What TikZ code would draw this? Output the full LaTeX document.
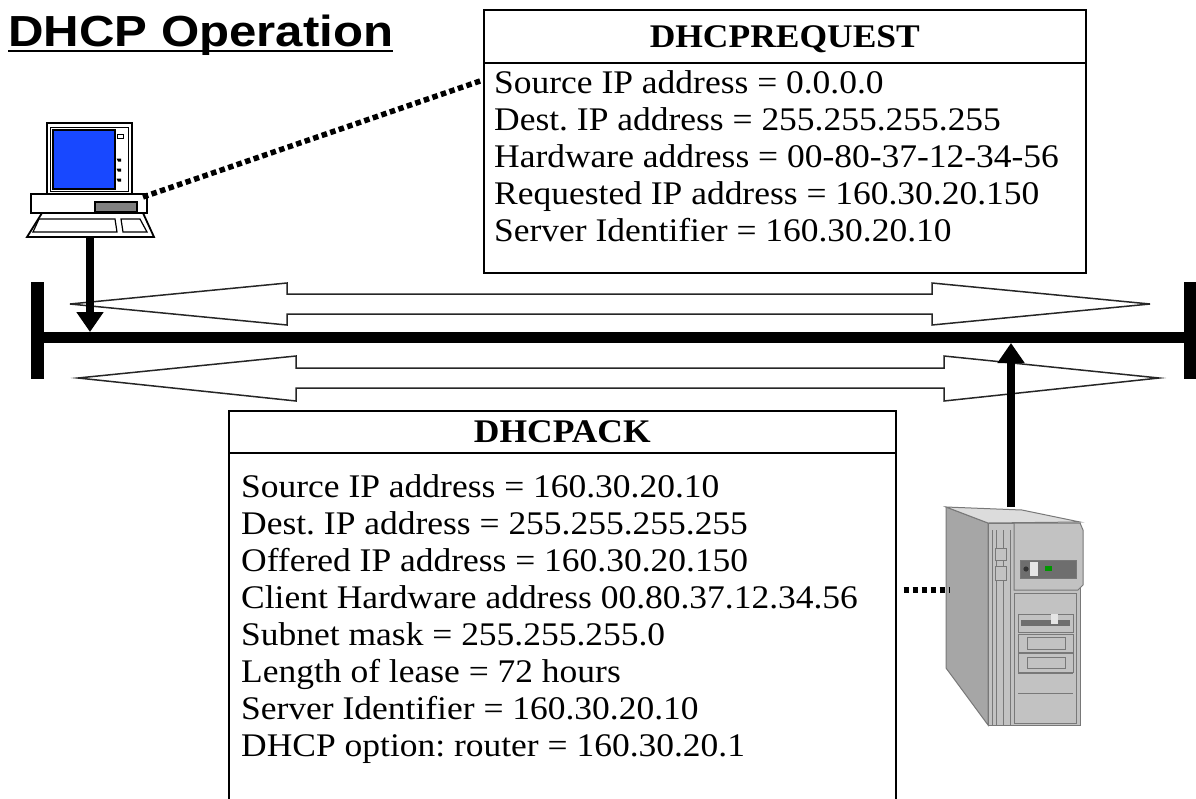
\documentclass[tikz,border=0pt]{standalone}
\usepackage{fontspec}
\setmainfont{Liberation Serif}[FakeStretch=1.075]
\newfontfamily\headfont{Liberation Sans}[FakeStretch=1.13]
\usetikzlibrary{arrows.meta}
\definecolor{screenblue}{RGB}{24,72,255}
\definecolor{slotgray}{RGB}{128,128,128}
\definecolor{caseside}{RGB}{166,166,166}
\definecolor{casefront}{RGB}{194,194,194}
\definecolor{casetop}{RGB}{220,220,220}
\definecolor{caseline}{RGB}{120,120,120}
\definecolor{bezeldark}{RGB}{110,110,110}
\definecolor{ledgreen}{RGB}{0,150,0}
\newcommand\bodysize{\fontsize{33}{37}\selectfont\frenchspacing}
\begin{document}
\begin{tikzpicture}[x=1pt,y=-1pt,
  msgbox/.style={draw=black, line width=1.6pt, fill=white, inner sep=0pt, anchor=north west},
  msghead/.style={msgbox, minimum height=53pt, font=\bodysize\bfseries, text height=22pt, text depth=0pt},
  msgline/.style={anchor=base west, inner sep=0pt, font=\bodysize},
  hollow/.style={draw=black!85, line width=1.5pt, fill=white, line join=miter},
  cable/.style={line width=8pt, -{Triangle[width=26pt,length=20pt]}},
  dotlink/.style={line width=5.5pt, dash pattern=on 5.5pt off 3.5pt},
  pcline/.style={draw=black, line width=1.8pt, fill=white},
  srvline/.style={draw=caseline, line width=1pt}]
\useasboundingbox (0,0) rectangle (1196,798);

% heading
\node[anchor=base west, inner sep=0pt, font=\headfont\bfseries\fontsize{43.5}{50}\selectfont] (title) at (8,46) {DHCP Operation};
\draw[line width=2.6pt] ([yshift=-5pt]title.base west) -- ([yshift=-5pt]title.base east);

% request message
\node[msgbox, minimum width=602pt, minimum height=210pt] (reqbody) at (483,62) {};
\node[msghead, minimum width=602pt] (reqhead) at (483,9) {DHCPREQUEST};
\node[msgline] (r1) at (494,93.5) {Source IP address = 0.0.0.0};
\node[msgline] (r2) at (494,130.5) {Dest. IP address = 255.255.255.255};
\node[msgline] (r3) at (494,167.5) {Hardware address = 00-80-37-12-34-56};
\node[msgline] (r4) at (494,204.5) {Requested IP address = 160.30.20.150};
\node[msgline] (r5) at (494,241.5) {Server Identifier = 160.30.20.10};

% acknowledgement message
\node[msgbox, minimum width=667pt, minimum height=360pt] (ackbody) at (228,452) {};
\node[msghead, minimum width=667pt, minimum height=42pt] (ackhead) at (228,410) {DHCPACK};
\node[msgline] (a1) at (241,497) {Source IP address = 160.30.20.10};
\node[msgline] (a2) at (241,534) {Dest. IP address = 255.255.255.255};
\node[msgline] (a3) at (241,571) {Offered IP address = 160.30.20.150};
\node[msgline] (a4) at (241,608) {Client Hardware address 00.80.37.12.34.56};
\node[msgline] (a5) at (241,645) {Subnet mask = 255.255.255.0};
\node[msgline] (a6) at (241,682) {Length of lease = 72 hours};
\node[msgline] (a7) at (241,719) {Server Identifier = 160.30.20.10};
\node[msgline] (a8) at (241,756) {DHCP option: router = 160.30.20.1};

% broadcast arrows along the segment
\draw[hollow] (70,304) -- (287,283) -- (287,294) -- (932,294) -- (932,283) -- (1150,304)
  -- (932,325) -- (932,314) -- (287,314) -- (287,325) -- cycle;
\draw[hollow] (78,378) -- (296,356) -- (296,368) -- (944,368) -- (944,356) -- (1159,378)
  -- (944,401) -- (944,388) -- (296,388) -- (296,401) -- cycle;

% network segment
\coordinate (busL) at (37.5,337.5);
\coordinate (busR) at (1190,337.5);
\draw[line width=11pt] (busL) -- (busR);
\draw[line width=13pt] ([yshift=55.5pt]busL) -- ([yshift=-41.5pt]busL);
\draw[line width=12pt] ([yshift=55.5pt]busR) -- ([yshift=-41.5pt]busR);
\coordinate (pcdrop) at (90,332);
\coordinate (srvrise) at (1011,343);

% client workstation
\draw[pcline] (47,123) rectangle (132,194);
\draw[line width=1pt] (50,127) rectangle (128,191);
\draw[line width=1.5pt, fill=screenblue] (53,130) rectangle (115,189);
\draw[line width=1pt] (117,134) rectangle (123,138);
\foreach \yy in {160,170,180}
  \fill (116.5,\yy-1.5) -- (121,\yy-1.5) -- (121,\yy+1.5) -- (118,\yy+1.5) -- cycle;
\draw[pcline] (31,194) rectangle (147,213);
\draw[line width=1.2pt, fill=slotgray] (95,202) rectangle (137,212);
\draw[pcline] (42,213) -- (143,213) -- (154,237) -- (27,237) -- cycle;
\draw[line width=1.2pt] (39,219) -- (115,219) -- (117,232) -- (33,232) -- cycle;
\draw[line width=1.2pt] (121,219) -- (140,219) -- (147,232) -- (123,232) -- cycle;
\coordinate (pcbase) at (90,236);
\coordinate (pcport) at (143,197);

% server tower
\draw[srvline, fill=caseside] (946,507) -- (988,523) -- (988,725) -- (946,668) -- cycle;
\draw[srvline, fill=casetop] (946,507) -- (1022,510) -- (1080,522) -- (988,523) -- cycle;
\draw[srvline, fill=casefront] (988,523) rectangle (1080,725);
\draw[srvline, fill=casefront] (1014,523) -- (1080,523) -- (1083,530) -- (1083,585) -- (1078,590) -- (1014,590) -- cycle;
\foreach \xx in {992,996,1003,1010}
  \draw[srvline] (\xx,530) -- (\xx,725);
\draw[srvline, fill=casefront] (995,548) rectangle (1006,560);
\draw[srvline, fill=casefront] (995,566) rectangle (1006,580);
\draw[srvline, fill=bezeldark] (1020,560) rectangle (1076,578);
\fill[black!80] (1026,569) circle (2.6);
\fill[black!10] (1030,562) rectangle (1038,576);
\fill[ledgreen] (1045,566) rectangle (1052,571);
\draw[srvline] (1014,593) rectangle (1076,723);
\draw[srvline, fill=casefront] (1018,614) rectangle (1073,632);
\fill[bezeldark] (1021,620) rectangle (1070,626);
\fill[black!10] (1051,614) rectangle (1058,624);
\draw[srvline] (1018,634) rectangle (1073,652);
\draw[srvline] (1027,637) rectangle (1065,649);
\draw[srvline] (1018,653) rectangle (1073,672);
\draw[srvline] (1027,657) rectangle (1065,668);
\draw[srvline] (1018,673) -- (1073,673);
\draw[srvline] (1018,693) -- (1073,693);
\coordinate (srvtop) at (1011,507);
\coordinate (srvport) at (950,590);

% attachments
\draw[cable] (pcbase) -- (pcdrop);
\draw[cable] (srvtop) -- (srvrise);
\draw[dotlink] (pcport) -- ([yshift=-18pt]reqbody.north west);
\draw[dotlink] ([xshift=7pt]ackbody.east |- srvport) -- (srvport);
\end{tikzpicture}
\end{document}
